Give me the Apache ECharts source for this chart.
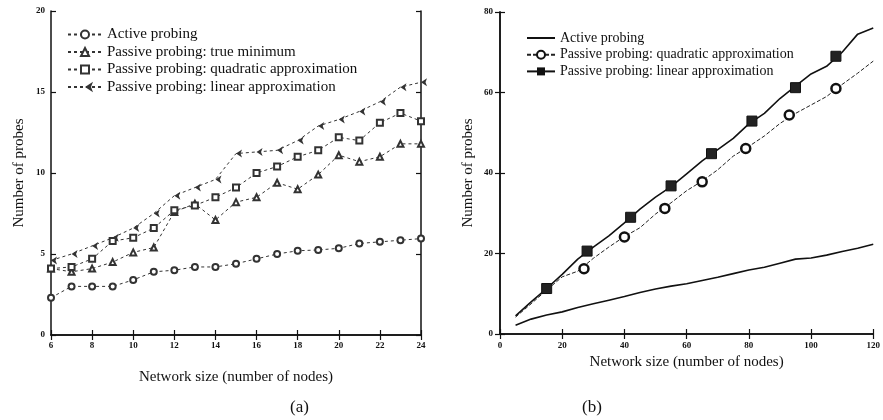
<!DOCTYPE html>
<html>
<head>
<meta charset="utf-8">
<script src="https://cdn.jsdelivr.net/npm/echarts@6/dist/echarts.min.js"></script>
<style>
  html, body { margin: 0; padding: 0; background: #fff; }
  #chart { width: 883px; height: 420px; }
</style>
</head>
<body>
<div id="chart"></div>
<script>
// (a) network sizes 6..24
const sizesA = [6, 7, 8, 9, 10, 11, 12, 13, 14, 15, 16, 17, 18, 19, 20, 21, 22, 23, 24];
const activeA = [2.3, 3.0, 3.0, 3.0, 3.4, 3.9, 4.0, 4.2, 4.2, 4.4, 4.7, 5.0, 5.2, 5.25, 5.35, 5.65, 5.75, 5.85, 5.95];
const trueMinA = [4.1, 3.9, 4.1, 4.5, 5.1, 5.4, 7.6, 8.1, 7.1, 8.2, 8.5, 9.4, 9.0, 9.9, 11.1, 10.7, 11.0, 11.8, 11.8];
const quadA = [4.1, 4.2, 4.7, 5.8, 6.0, 6.6, 7.7, 8.0, 8.5, 9.1, 10.0, 10.4, 11.0, 11.4, 12.2, 12.0, 13.1, 13.7, 13.2];
const linearA = [4.6, 5.0, 5.5, 6.0, 6.6, 7.5, 8.6, 9.1, 9.6, 11.2, 11.3, 11.4, 12.0, 12.9, 13.3, 13.8, 14.4, 15.3, 15.6];

// (b) network sizes 5..120
const sizesB = [5, 10, 15, 20, 25, 30, 35, 40, 45, 50, 55, 60, 65, 70, 75, 80, 85, 90, 95, 100, 105, 110, 115, 120];
const activeB = [2.2, 3.7, 4.7, 5.5, 6.6, 7.5, 8.4, 9.3, 10.3, 11.2, 11.9, 12.5, 13.3, 14.1, 15.0, 15.9, 16.6, 17.6, 18.6, 18.9, 19.6, 20.5, 21.3, 22.3];
const quadB = [4.2, 7.5, 10.9, 14.2, 15.6, 18.8, 21.6, 24.2, 26.4, 29.8, 32.6, 35.6, 38.0, 40.8, 44.2, 46.6, 49.2, 52.3, 54.8, 56.9, 59.0, 62.0, 64.8, 67.8];
const linearB = [4.5, 8.0, 11.3, 14.8, 18.6, 21.6, 24.4, 27.6, 31.0, 34.0, 36.6, 39.8, 43.0, 45.8, 48.6, 52.2, 54.8, 58.5, 61.6, 64.6, 66.5, 70.0, 74.5, 76.0];
// marker positions in (b)
const quadMarkX = [27, 40, 53, 65, 79, 93, 108];
const quadMarkY = [16.2, 24.1, 31.2, 37.8, 46.1, 54.4, 61.0];
const linMarkX = [15, 28, 42, 55, 68, 81, 95, 108];
const linMarkY = [11.3, 20.6, 29.0, 36.8, 44.8, 52.9, 61.2, 69.0];

const serif = 'Liberation Serif';
const ink = '#111';

function pairs (xs, ys) {
  return xs.map((x, i) => [x, ys[i]]);
}

function valueAxis (grid, opts) {
  return Object.assign({
    type: 'value',
    gridIndex: grid,
    axisLine: { show: true, lineStyle: { color: ink, width: 1.5 } },
    axisTick: { show: true, inside: true, length: 5, lineStyle: { color: ink, width: 1.2 } },
    axisLabel: { color: ink, fontFamily: serif, fontSize: 9, fontWeight: 'bold' },
    splitLine: { show: false },
    nameTextStyle: { color: ink, fontFamily: serif, fontSize: 15 }
  }, opts);
}

function mirror (grid, pos, min, max, interval) {
  return valueAxis(grid, {
    position: pos, min: min, max: max, interval: interval,
    axisLabel: { show: false }
  });
}

function tickLabels (margin) {
  return { color: ink, fontFamily: serif, fontSize: 9, fontWeight: 'bold', margin: margin };
}

const dashA = { color: '#333', width: 1, type: [3, 3] };

let option = {
  backgroundColor: '#fff',
  animation: false,
  grid: [
    { left: 51, top: 11, width: 370, height: 324 },
    { left: 500, top: 12, width: 374, height: 322 }
  ],
  xAxis: [
    valueAxis(0, { min: 6, max: 24, interval: 2, name: 'Network size (number of nodes)', nameLocation: 'middle', nameGap: 35, axisLabel: tickLabels(6) }),
    valueAxis(1, { min: 0, max: 120, interval: 20, name: 'Network size (number of nodes)', nameLocation: 'middle', nameGap: 21, axisLabel: tickLabels(7) }),
    mirror(0, 'top', 6, 24, 2),
    mirror(1, 'top', 0, 120, 20)
  ],
  yAxis: [
    valueAxis(0, { min: 0, max: 20, interval: 5, name: 'Number of probes', nameLocation: 'middle', nameGap: 24, axisLabel: tickLabels(6) }),
    valueAxis(1, { min: 0, max: 80, interval: 20, name: 'Number of probes', nameLocation: 'middle', nameGap: 24, axisLabel: tickLabels(7) }),
    mirror(0, 'right', 0, 20, 5),
    mirror(1, 'right', 0, 80, 20)
  ],
  legend: [
    {
      orient: 'vertical', left: 62, top: 22, itemWidth: 34, itemHeight: 10, itemGap: 2.5,
      textStyle: { color: ink, fontFamily: serif, fontSize: 15 },
      data: ['Active probing', 'Passive probing: true minimum', 'Passive probing: quadratic approximation', 'Passive probing: linear approximation']
    },
    {
      orient: 'vertical', left: 521, top: 26, itemWidth: 28, itemHeight: 10, itemGap: 2.7,
      textStyle: { color: ink, fontFamily: serif, fontSize: 14 },
      data: [
        { name: 'Active probing ', itemStyle: { opacity: 0 } },
        'Passive probing: quadratic approximation ',
        'Passive probing: linear approximation '
      ]
    }
  ],
  graphic: [
    { type: 'text', left: 290, top: 399, style: { text: '(a)', font: '17px "Liberation Serif"', fill: ink } },
    { type: 'text', left: 582, top: 399, style: { text: '(b)', font: '17px "Liberation Serif"', fill: ink } }
  ],
  series: [
    {
      name: 'Active probing', type: 'line', xAxisIndex: 0, yAxisIndex: 0,
      data: pairs(sizesA, activeA), symbol: 'emptyCircle', symbolSize: 6,
      lineStyle: dashA, itemStyle: { color: '#333', borderWidth: 1 }
    },
    {
      name: 'Passive probing: true minimum', type: 'line', xAxisIndex: 0, yAxisIndex: 0,
      data: pairs(sizesA, trueMinA), symbol: 'emptyTriangle', symbolSize: 6,
      lineStyle: dashA, itemStyle: { color: '#333', borderWidth: 1 }
    },
    {
      name: 'Passive probing: quadratic approximation', type: 'line', xAxisIndex: 0, yAxisIndex: 0,
      data: pairs(sizesA, quadA), symbol: 'emptyRect', symbolSize: 6,
      lineStyle: dashA, itemStyle: { color: '#333', borderWidth: 1 }
    },
    {
      name: 'Passive probing: linear approximation', type: 'line', xAxisIndex: 0, yAxisIndex: 0,
      data: pairs(sizesA, linearA), symbol: 'arrow', symbolRotate: 90, symbolSize: 6,
      lineStyle: dashA, itemStyle: { color: '#333', borderWidth: 1 }
    },
    {
      name: 'Active probing ', type: 'line', xAxisIndex: 1, yAxisIndex: 1,
      data: pairs(sizesB, activeB), symbol: 'none',
      lineStyle: { color: ink, width: 1.6 }, itemStyle: { color: ink }
    },
    {
      name: 'Passive probing: quadratic approximation ', type: 'line', xAxisIndex: 1, yAxisIndex: 1,
      data: pairs(sizesB, quadB), symbol: 'circle', showSymbol: false,
      lineStyle: { color: '#222', width: 1, type: [4, 2] },
      itemStyle: { color: '#fff', borderColor: ink, borderWidth: 2.5 }
    },
    {
      name: 'Passive probing: linear approximation ', type: 'line', xAxisIndex: 1, yAxisIndex: 1,
      data: pairs(sizesB, linearB), symbol: 'rect', showSymbol: false,
      lineStyle: { color: ink, width: 1.6 }, itemStyle: { color: ink }
    },
    {
      type: 'scatter', xAxisIndex: 1, yAxisIndex: 1, z: 5,
      data: pairs(quadMarkX, quadMarkY), symbol: 'circle', symbolSize: 9,
      itemStyle: { color: '#fff', borderColor: ink, borderWidth: 2.5, opacity: 1 }
    },
    {
      type: 'scatter', xAxisIndex: 1, yAxisIndex: 1, z: 5,
      data: pairs(linMarkX, linMarkY), symbol: 'rect', symbolSize: 10,
      itemStyle: { color: '#222', borderColor: ink, borderWidth: 1, opacity: 1 }
    }
  ]
};

let chart = echarts.init(document.getElementById('chart'));
chart.setOption(option);
</script>
</body>
</html>
